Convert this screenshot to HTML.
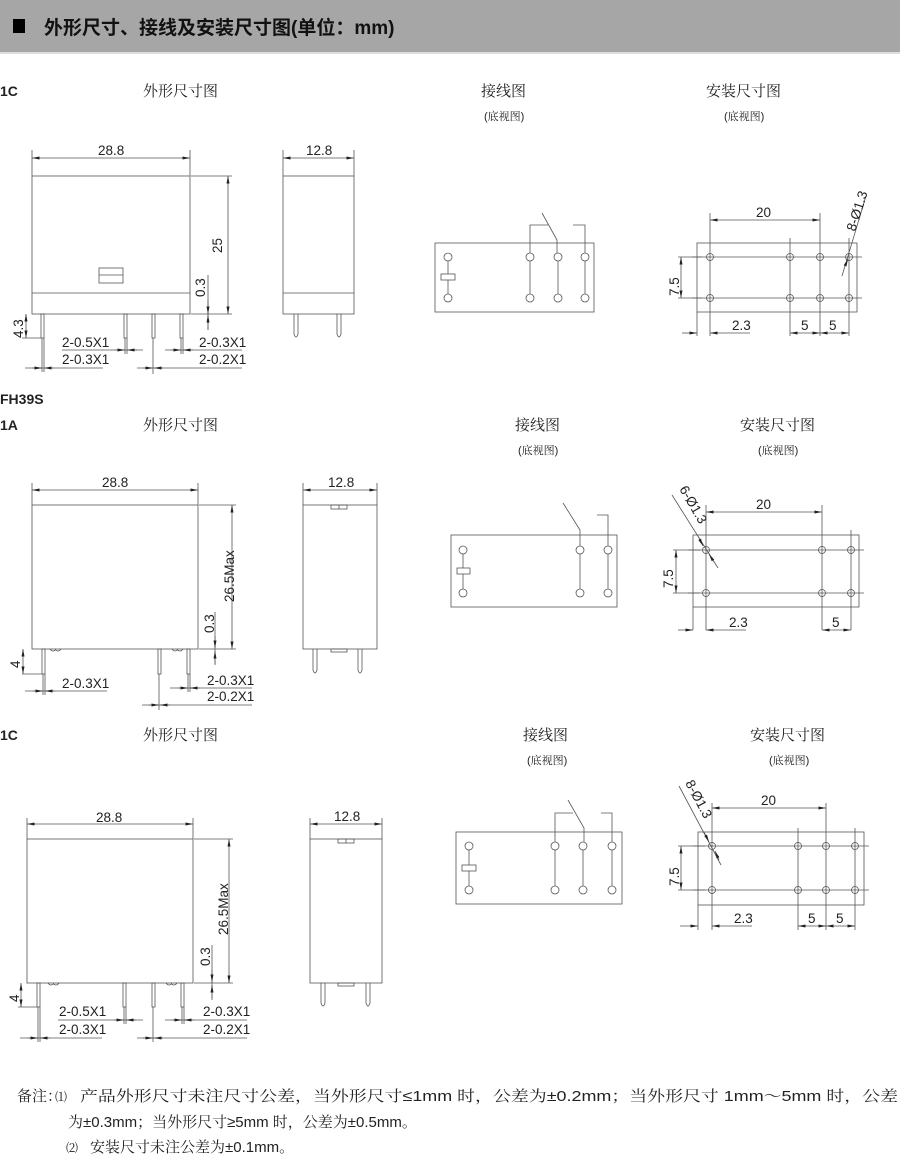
<!DOCTYPE html>
<html><head><meta charset="utf-8"><style>
html,body{margin:0;padding:0;background:#fff;}
svg{display:block;}
text{font-family:"Liberation Sans","Noto Sans CJK SC",sans-serif;fill:#222;}
.c{font-family:"Liberation Sans","Noto Serif CJK SC",sans-serif;}
</style></head><body>
<svg width="900" height="1154" viewBox="0 0 900 1154" xmlns="http://www.w3.org/2000/svg">
<defs>
<marker id="a" viewBox="0 0 10 4" refX="10" refY="2" markerWidth="8" markerHeight="3" markerUnits="userSpaceOnUse" orient="auto-start-reverse"><path d="M0,0L10,2L0,4z" fill="#222"/></marker>
</defs>
<rect x="0" y="0" width="900" height="52" fill="#a6a6a6"/>
<rect x="0" y="52" width="900" height="2" fill="#ddd"/>
<rect x="13" y="19" width="12" height="14" fill="#000"/>
<text x="44" y="34" font-size="19" font-weight="bold" fill="#111" style="fill:#111">外形尺寸、接线及安装尺寸图(单位：mm)</text>

<g font-size="13">
<text x="0" y="96" font-weight="bold" font-size="14">1C</text>
<text x="143" y="96" class="c" font-size="15">外形尺寸图</text>
<text x="481" y="96" class="c" font-size="15">接线图</text>
<text x="484" y="120" class="c" font-size="11">(底视图)</text>
<text x="706" y="96" class="c" font-size="15">安装尺寸图</text>
<text x="724" y="120" class="c" font-size="11">(底视图)</text>

<text x="0" y="404" font-weight="bold" font-size="14">FH39S</text>
<text x="0" y="430" font-weight="bold" font-size="14">1A</text>
<text x="143" y="430" class="c" font-size="15">外形尺寸图</text>
<text x="515" y="430" class="c" font-size="15">接线图</text>
<text x="518" y="454" class="c" font-size="11">(底视图)</text>
<text x="740" y="430" class="c" font-size="15">安装尺寸图</text>
<text x="758" y="454" class="c" font-size="11">(底视图)</text>

<text x="0" y="740" font-weight="bold" font-size="14">1C</text>
<text x="143" y="740" class="c" font-size="15">外形尺寸图</text>
<text x="523" y="740" class="c" font-size="15">接线图</text>
<text x="527" y="764" class="c" font-size="11">(底视图)</text>
<text x="750" y="740" class="c" font-size="15">安装尺寸图</text>
<text x="769" y="764" class="c" font-size="11">(底视图)</text>
</g>

<g stroke="#555" stroke-width="0.8" fill="none">
<rect x="32" y="176" width="158" height="138"/>
<line x1="32" y1="293" x2="190" y2="293"/>
<rect x="99" y="268" width="24" height="15"/>
<line x1="99" y1="275" x2="123" y2="275"/>
<line x1="32" y1="150" x2="32" y2="176"/><line x1="190" y1="150" x2="190" y2="176"/>
<line x1="32" y1="158" x2="190" y2="158" marker-start="url(#a)" marker-end="url(#a)"/>
<line x1="191" y1="176" x2="232" y2="176"/><line x1="191" y1="314" x2="232" y2="314"/>
<line x1="228" y1="176" x2="228" y2="314" marker-start="url(#a)" marker-end="url(#a)"/>
<line x1="208" y1="275" x2="208" y2="330"/>
<line x1="208" y1="300" x2="208" y2="314" marker-end="url(#a)"/>
<line x1="208" y1="330" x2="208" y2="315" marker-end="url(#a)"/>
<rect x="41" y="314" width="3" height="24"/><rect x="124" y="314" width="3" height="24"/>
<rect x="152" y="314" width="3" height="24"/><rect x="180" y="314" width="3" height="24"/>
<line x1="42" y1="338" x2="42" y2="372"/><line x1="44" y1="338" x2="44" y2="372"/>
<line x1="153" y1="338" x2="153" y2="374"/>
<line x1="125" y1="338" x2="125" y2="354"/><line x1="127" y1="338" x2="127" y2="354"/>
<line x1="181" y1="338" x2="181" y2="354"/><line x1="183" y1="338" x2="183" y2="354"/>
<line x1="22" y1="338" x2="41" y2="338"/>
<line x1="26" y1="314" x2="26" y2="338" marker-start="url(#a)" marker-end="url(#a)"/>
<line x1="62" y1="350" x2="143" y2="350"/>
<line x1="115" y1="350" x2="125" y2="350" marker-end="url(#a)"/><line x1="137" y1="350" x2="127" y2="350" marker-end="url(#a)"/>
<line x1="25" y1="368" x2="103" y2="368"/>
<line x1="32" y1="368" x2="42" y2="368" marker-end="url(#a)"/><line x1="54" y1="368" x2="44" y2="368" marker-end="url(#a)"/>
<line x1="165" y1="350" x2="242" y2="350"/>
<line x1="171" y1="350" x2="181" y2="350" marker-end="url(#a)"/><line x1="193" y1="350" x2="183" y2="350" marker-end="url(#a)"/>
<line x1="137" y1="368" x2="242" y2="368"/>
<line x1="143" y1="368" x2="153" y2="368" marker-end="url(#a)"/><line x1="163" y1="368" x2="154" y2="368" marker-end="url(#a)"/>
<rect x="283" y="176" width="71" height="138"/>
<line x1="283" y1="293" x2="354" y2="293"/>
<line x1="283" y1="150" x2="283" y2="176"/><line x1="354" y1="150" x2="354" y2="176"/>
<line x1="283" y1="158" x2="354" y2="158" marker-start="url(#a)" marker-end="url(#a)"/>
<path d="M294,314V334Q296,340 298,334V314"/><path d="M337,314V334Q339,340 341,334V314"/>

<rect x="435" y="243" width="159" height="69"/>
<circle cx="448" cy="257" r="4"/><circle cx="448" cy="298" r="4"/>
<rect x="441" y="274" width="14" height="6"/>
<line x1="448" y1="261" x2="448" y2="274"/><line x1="448" y1="280" x2="448" y2="294"/>
<circle cx="530" cy="257" r="4"/><circle cx="530" cy="298" r="4"/>
<circle cx="558" cy="257" r="4"/><circle cx="558" cy="298" r="4"/>
<circle cx="585" cy="257" r="4"/><circle cx="585" cy="298" r="4"/>
<line x1="530" y1="261" x2="530" y2="294"/><line x1="558" y1="261" x2="558" y2="294"/><line x1="585" y1="261" x2="585" y2="294"/>
<path d="M530,253V225H548"/><path d="M542,213L557,240V253"/><path d="M573,225H585V253"/>
<rect x="697" y="243" width="160" height="69"/>
<line x1="692" y1="257" x2="862" y2="257"/><line x1="692" y1="298" x2="862" y2="298"/>
<line x1="710" y1="213" x2="710" y2="336"/><line x1="790" y1="238" x2="790" y2="336"/>
<line x1="820" y1="213" x2="820" y2="336"/><line x1="849" y1="238" x2="849" y2="336"/>
<line x1="697" y1="312" x2="697" y2="336"/>
<circle cx="710" cy="257" r="3.5"/><circle cx="710" cy="298" r="3.5"/>
<circle cx="790" cy="257" r="3.5"/><circle cx="790" cy="298" r="3.5"/>
<circle cx="820" cy="257" r="3.5"/><circle cx="820" cy="298" r="3.5"/>
<circle cx="849" cy="257" r="3.5"/><circle cx="849" cy="298" r="3.5"/>
<line x1="710" y1="220" x2="820" y2="220" marker-start="url(#a)" marker-end="url(#a)"/>
<line x1="678" y1="257" x2="702" y2="257"/><line x1="678" y1="298" x2="702" y2="298"/>
<line x1="681" y1="257" x2="681" y2="298" marker-start="url(#a)" marker-end="url(#a)"/>
<line x1="682" y1="333" x2="697" y2="333" marker-end="url(#a)"/><line x1="750" y1="333" x2="710" y2="333" marker-end="url(#a)"/>
<line x1="790" y1="333" x2="820" y2="333" marker-start="url(#a)" marker-end="url(#a)"/>
<line x1="820" y1="333" x2="849" y2="333" marker-start="url(#a)" marker-end="url(#a)"/>
<line x1="842" y1="276" x2="866" y2="196"/>
<line x1="845" y1="266" x2="848" y2="259" marker-end="url(#a)"/>

<rect x="32" y="505" width="166" height="144"/>
<line x1="32" y1="483" x2="32" y2="505"/><line x1="198" y1="483" x2="198" y2="505"/>
<line x1="32" y1="490" x2="198" y2="490" marker-start="url(#a)" marker-end="url(#a)"/>
<line x1="199" y1="505" x2="236" y2="505"/><line x1="199" y1="649" x2="236" y2="649"/>
<line x1="232" y1="505" x2="232" y2="649" marker-start="url(#a)" marker-end="url(#a)"/>
<line x1="215" y1="612" x2="215" y2="665"/>
<line x1="215" y1="636" x2="215" y2="648" marker-end="url(#a)"/>
<line x1="215" y1="664" x2="215" y2="651" marker-end="url(#a)"/>
<path d="M50,649q3,4 6,0M55,649q3,4 6,0M172,649q3,4 6,0M177,649q3,4 6,0"/>
<rect x="42" y="649" width="3" height="25"/><rect x="158" y="649" width="3" height="25"/><rect x="187" y="649" width="3" height="25"/>
<line x1="43" y1="674" x2="43" y2="695"/><line x1="45" y1="674" x2="45" y2="695"/>
<line x1="159" y1="674" x2="159" y2="710"/>
<line x1="188" y1="674" x2="188" y2="692"/><line x1="190" y1="674" x2="190" y2="692"/>
<line x1="22" y1="674" x2="42" y2="674"/>
<line x1="23" y1="649" x2="23" y2="674" marker-start="url(#a)" marker-end="url(#a)"/>
<line x1="25" y1="691" x2="107" y2="691"/>
<line x1="33" y1="691" x2="43" y2="691" marker-end="url(#a)"/><line x1="55" y1="691" x2="45" y2="691" marker-end="url(#a)"/>
<line x1="170" y1="688" x2="252" y2="688"/>
<line x1="178" y1="688" x2="188" y2="688" marker-end="url(#a)"/><line x1="200" y1="688" x2="190" y2="688" marker-end="url(#a)"/>
<line x1="142" y1="705" x2="252" y2="705"/>
<line x1="149" y1="705" x2="159" y2="705" marker-end="url(#a)"/><line x1="170" y1="705" x2="160" y2="705" marker-end="url(#a)"/>
<rect x="303" y="505" width="74" height="144"/>
<rect x="331" y="505" width="16" height="4"/><line x1="339" y1="505" x2="339" y2="509"/>
<rect x="331" y="649" width="16" height="3"/>
<line x1="303" y1="483" x2="303" y2="505"/><line x1="377" y1="483" x2="377" y2="505"/>
<line x1="303" y1="490" x2="377" y2="490" marker-start="url(#a)" marker-end="url(#a)"/>
<path d="M313,649V670Q315,676 317,670V649"/><path d="M358,649V670Q360,676 362,670V649"/>

<rect x="451" y="535" width="166" height="72"/>
<circle cx="463" cy="550" r="4"/><circle cx="463" cy="593" r="4"/>
<rect x="457" y="568" width="13" height="6"/>
<line x1="463" y1="554" x2="463" y2="568"/><line x1="463" y1="574" x2="463" y2="589"/>
<circle cx="580" cy="550" r="4"/><circle cx="580" cy="593" r="4"/>
<circle cx="608" cy="550" r="4"/><circle cx="608" cy="593" r="4"/>
<line x1="580" y1="554" x2="580" y2="589"/><line x1="608" y1="554" x2="608" y2="589"/>
<path d="M563,503L580,530V546"/><path d="M597,515H608V546"/>
<rect x="693" y="535" width="166" height="72"/>
<line x1="688" y1="550" x2="864" y2="550"/><line x1="688" y1="593" x2="864" y2="593"/>
<line x1="706" y1="505" x2="706" y2="630"/><line x1="822" y1="505" x2="822" y2="630"/>
<line x1="851" y1="530" x2="851" y2="630"/><line x1="693" y1="607" x2="693" y2="630"/>
<circle cx="706" cy="550" r="3.5"/><circle cx="706" cy="593" r="3.5"/>
<circle cx="822" cy="550" r="3.5"/><circle cx="822" cy="593" r="3.5"/>
<circle cx="851" cy="550" r="3.5"/><circle cx="851" cy="593" r="3.5"/>
<line x1="706" y1="512" x2="822" y2="512" marker-start="url(#a)" marker-end="url(#a)"/>
<line x1="673" y1="550" x2="700" y2="550"/><line x1="673" y1="593" x2="700" y2="593"/>
<line x1="676" y1="550" x2="676" y2="593" marker-start="url(#a)" marker-end="url(#a)"/>
<line x1="678" y1="630" x2="693" y2="630" marker-end="url(#a)"/><line x1="746" y1="630" x2="706" y2="630" marker-end="url(#a)"/>
<line x1="822" y1="630" x2="851" y2="630" marker-start="url(#a)" marker-end="url(#a)"/>
<line x1="672" y1="495" x2="718" y2="568"/>
<line x1="698" y1="536" x2="703" y2="546" marker-end="url(#a)"/>
<line x1="714" y1="562" x2="709" y2="554" marker-end="url(#a)"/>

<rect x="27" y="839" width="166" height="144"/>
<line x1="27" y1="818" x2="27" y2="839"/><line x1="193" y1="818" x2="193" y2="839"/>
<line x1="27" y1="824" x2="193" y2="824" marker-start="url(#a)" marker-end="url(#a)"/>
<line x1="194" y1="839" x2="233" y2="839"/><line x1="194" y1="983" x2="233" y2="983"/>
<line x1="229" y1="839" x2="229" y2="983" marker-start="url(#a)" marker-end="url(#a)"/>
<line x1="212" y1="945" x2="212" y2="1000"/>
<line x1="212" y1="970" x2="212" y2="982" marker-end="url(#a)"/>
<line x1="212" y1="998" x2="212" y2="985" marker-end="url(#a)"/>
<path d="M48,983q3,4 6,0M53,983q3,4 6,0M166,983q3,4 6,0M171,983q3,4 6,0"/>
<rect x="37" y="983" width="3" height="24"/><rect x="123" y="983" width="3" height="24"/>
<rect x="152" y="983" width="3" height="24"/><rect x="181" y="983" width="3" height="24"/>
<line x1="38" y1="1007" x2="38" y2="1042"/><line x1="40" y1="1007" x2="40" y2="1042"/>
<line x1="153" y1="1007" x2="153" y2="1042"/>
<line x1="124" y1="1007" x2="124" y2="1024"/><line x1="126" y1="1007" x2="126" y2="1024"/>
<line x1="182" y1="1007" x2="182" y2="1024"/><line x1="184" y1="1007" x2="184" y2="1024"/>
<line x1="18" y1="1007" x2="37" y2="1007"/>
<line x1="21" y1="983" x2="21" y2="1007" marker-start="url(#a)" marker-end="url(#a)"/>
<line x1="58" y1="1020" x2="143" y2="1020"/>
<line x1="114" y1="1020" x2="124" y2="1020" marker-end="url(#a)"/><line x1="136" y1="1020" x2="126" y2="1020" marker-end="url(#a)"/>
<line x1="20" y1="1038" x2="102" y2="1038"/>
<line x1="28" y1="1038" x2="38" y2="1038" marker-end="url(#a)"/><line x1="50" y1="1038" x2="40" y2="1038" marker-end="url(#a)"/>
<line x1="165" y1="1020" x2="247" y2="1020"/>
<line x1="172" y1="1020" x2="182" y2="1020" marker-end="url(#a)"/><line x1="194" y1="1020" x2="184" y2="1020" marker-end="url(#a)"/>
<line x1="137" y1="1038" x2="247" y2="1038"/>
<line x1="143" y1="1038" x2="153" y2="1038" marker-end="url(#a)"/><line x1="163" y1="1038" x2="154" y2="1038" marker-end="url(#a)"/>
<rect x="310" y="839" width="72" height="144"/>
<rect x="338" y="839" width="16" height="4"/><line x1="346" y1="839" x2="346" y2="843"/>
<rect x="338" y="983" width="16" height="3"/>
<line x1="310" y1="818" x2="310" y2="839"/><line x1="382" y1="818" x2="382" y2="839"/>
<line x1="310" y1="824" x2="382" y2="824" marker-start="url(#a)" marker-end="url(#a)"/>
<path d="M321,983V1003Q323,1009 325,1003V983"/><path d="M366,983V1003Q368,1009 370,1003V983"/>

<rect x="456" y="832" width="166" height="72"/>
<circle cx="469" cy="846" r="4"/><circle cx="469" cy="890" r="4"/>
<rect x="462" y="865" width="14" height="6"/>
<line x1="469" y1="850" x2="469" y2="865"/><line x1="469" y1="871" x2="469" y2="886"/>
<circle cx="555" cy="846" r="4"/><circle cx="555" cy="890" r="4"/>
<circle cx="583" cy="846" r="4"/><circle cx="583" cy="890" r="4"/>
<circle cx="612" cy="846" r="4"/><circle cx="612" cy="890" r="4"/>
<line x1="555" y1="850" x2="555" y2="886"/><line x1="583" y1="850" x2="583" y2="886"/><line x1="612" y1="850" x2="612" y2="886"/>
<path d="M555,842V813H573"/><path d="M568,800L584,828V842"/><path d="M601,813H612V842"/>
<rect x="698" y="832" width="166" height="73"/>
<line x1="693" y1="846" x2="869" y2="846"/><line x1="693" y1="890" x2="869" y2="890"/>
<line x1="712" y1="803" x2="712" y2="930"/><line x1="798" y1="828" x2="798" y2="930"/>
<line x1="826" y1="803" x2="826" y2="930"/><line x1="855" y1="828" x2="855" y2="930"/>
<line x1="698" y1="905" x2="698" y2="930"/>
<circle cx="712" cy="846" r="3.5"/><circle cx="712" cy="890" r="3.5"/>
<circle cx="798" cy="846" r="3.5"/><circle cx="798" cy="890" r="3.5"/>
<circle cx="826" cy="846" r="3.5"/><circle cx="826" cy="890" r="3.5"/>
<circle cx="855" cy="846" r="3.5"/><circle cx="855" cy="890" r="3.5"/>
<line x1="712" y1="808" x2="826" y2="808" marker-start="url(#a)" marker-end="url(#a)"/>
<line x1="678" y1="846" x2="705" y2="846"/><line x1="678" y1="890" x2="705" y2="890"/>
<line x1="681" y1="846" x2="681" y2="890" marker-start="url(#a)" marker-end="url(#a)"/>
<line x1="680" y1="926" x2="698" y2="926" marker-end="url(#a)"/><line x1="752" y1="926" x2="712" y2="926" marker-end="url(#a)"/>
<line x1="798" y1="926" x2="826" y2="926" marker-start="url(#a)" marker-end="url(#a)"/>
<line x1="826" y1="926" x2="855" y2="926" marker-start="url(#a)" marker-end="url(#a)"/>
<line x1="679" y1="786" x2="721" y2="865"/>
<line x1="704" y1="832" x2="709" y2="842" marker-end="url(#a)"/>
<line x1="719" y1="860" x2="715" y2="851" marker-end="url(#a)"/>
</g>

<g font-size="13.5">
<text x="98" y="155">28.8</text>
<text x="306" y="155">12.8</text>
<text transform="translate(222,253) rotate(-90)">25</text>
<text transform="translate(205,297) rotate(-90)">0.3</text>
<text transform="translate(23,338) rotate(-90)">4.3</text>
<text x="62" y="347">2-0.5X1</text>
<text x="62" y="364">2-0.3X1</text>
<text x="199" y="347">2-0.3X1</text>
<text x="199" y="364">2-0.2X1</text>
<text x="756" y="217">20</text>
<text transform="translate(679,296) rotate(-90)">7.5</text>
<text x="732" y="330">2.3</text>
<text x="801" y="330">5</text>
<text x="829" y="330">5</text>
<text transform="translate(855,232) rotate(-72)">8-Ø1.3</text>

<text x="102" y="487">28.8</text>
<text x="328" y="487">12.8</text>
<text transform="translate(234,602) rotate(-90)">26.5Max</text>
<text transform="translate(214,633) rotate(-90)">0.3</text>
<text transform="translate(20,668) rotate(-90)">4</text>
<text x="62" y="688">2-0.3X1</text>
<text x="207" y="685">2-0.3X1</text>
<text x="207" y="701">2-0.2X1</text>
<text x="756" y="509">20</text>
<text transform="translate(673,588) rotate(-90)">7.5</text>
<text x="729" y="627">2.3</text>
<text x="832" y="627">5</text>
<text transform="translate(679,489) rotate(60)">6-Ø1.3</text>

<text x="96" y="822">28.8</text>
<text x="334" y="821">12.8</text>
<text transform="translate(228,935) rotate(-90)">26.5Max</text>
<text transform="translate(210,966) rotate(-90)">0.3</text>
<text transform="translate(19,1002) rotate(-90)">4</text>
<text x="59" y="1016">2-0.5X1</text>
<text x="59" y="1034">2-0.3X1</text>
<text x="203" y="1016">2-0.3X1</text>
<text x="203" y="1034">2-0.2X1</text>
<text x="761" y="805">20</text>
<text transform="translate(679,886) rotate(-90)">7.5</text>
<text x="734" y="923">2.3</text>
<text x="808" y="923">5</text>
<text x="836" y="923">5</text>
<text transform="translate(685,783) rotate(62)">8-Ø1.3</text>
</g>

<g font-size="15">
<text x="17" y="1101" class="c">备注：</text>
<text x="55" y="1101" class="c" font-size="12">⑴</text>
<text x="80" y="1101" class="c" textLength="818" lengthAdjust="spacingAndGlyphs">产品外形尺寸未注尺寸公差，当外形尺寸≤1mm 时，公差为±0.2mm；当外形尺寸 1mm～5mm 时，公差</text>
<text x="68" y="1127" class="c">为±0.3mm；当外形尺寸≥5mm 时，公差为±0.5mm。</text>
<text x="66" y="1152" class="c" font-size="12">⑵</text>
<text x="90" y="1152" class="c">安装尺寸未注公差为±0.1mm。</text>
</g>
</svg>
</body></html>
